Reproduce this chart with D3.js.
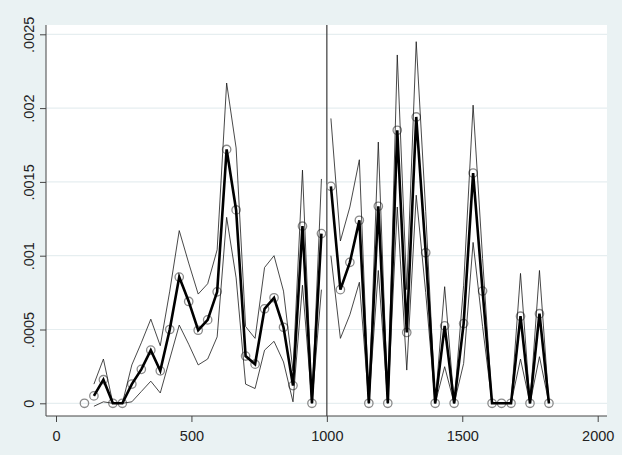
<!DOCTYPE html>
<html>
<head>
<meta charset="utf-8">
<script src="https://cdn.jsdelivr.net/npm/d3@7/dist/d3.min.js"></script>
<style>
  html, body { margin: 0; padding: 0; background: #eaf2f3; }
  svg { display: block; }
  text { font-family: "Liberation Sans", Arial, sans-serif; }
</style>
</head>
<body>
<svg id="chart" width="622" height="455"></svg>
<script>
// Bin midpoints (running variable)
const binX = [105, 140, 175, 210, 245, 280, 315, 350, 385, 420,
              455, 490, 525, 560, 595, 630, 665, 700, 735, 770,
              805, 840, 875, 910, 945, 980, 1015, 1050, 1085, 1120,
              1155, 1190, 1225, 1260, 1295, 1330, 1365, 1400, 1435, 1470,
              1505, 1540, 1575, 1610, 1645, 1680, 1715, 1750, 1785, 1820];

// Bin means (hollow markers and fitted line)
const binMean = [0, 0.00005, 0.00016, 0, 0, 0.00013, 0.00023, 0.00036, 0.00022, 0.0005,
                 0.000855, 0.00069, 0.000495, 0.000565, 0.000755, 0.00172, 0.00131, 0.00032, 0.000265, 0.00064,
                 0.000715, 0.000515, 0.00012, 0.0012, 0, 0.00115, 0.00147, 0.00077, 0.000955, 0.00124,
                 0, 0.001335, 0, 0.00185, 0.00048, 0.00194, 0.00102, 0, 0.000525, 0,
                 0.00054, 0.00156, 0.00076, 0, 0, 0, 0.00059, 0, 0.000607, 0];

// Upper and lower confidence bounds (null where no interval is drawn)
const ciUpper = [null, 0.00013, 0.0003, 0, 0, 0.00026, 0.00041, 0.00057, 0.00039, 0.00076,
                 0.00117, 0.00095, 0.00074, 0.00081, 0.00104, 0.00217, 0.00173, 0.00052, 0.00044, 0.00092,
                 0.001, 0.00076, 0.00022, 0.00158, 0, 0.00152, 0.00193, 0.0011, 0.00133, 0.00165,
                 0, 0.00177, 0, 0.00236, 0.00077, 0.00245, 0.0013, 0, 0.00079, 0,
                 0.0008, 0.00202, 0.00098, 0, 0, 0, 0.00088, 0, 0.0009, 0];
const ciLower = [null, -0.00002, 0.00001, 0, 0, 0.00001, 0.00008, 0.00015, 0.00007, 0.0003,
                 0.00053, 0.0004, 0.00026, 0.0003, 0.00045, 0.00126, 0.00085, 0.00013, 0.0001, 0.00036,
                 0.00042, 0.00028, 0.00001, 0.0008, 0, 0.00077, 0.001, 0.00044, 0.0006, 0.00082,
                 0, 0.0009, 0, 0.00133, 0.000225, 0.00141, 0.00075, 0, 0.000248, 0,
                 0.00027, 0.00109, 0.00052, 0, 0, 0, 0.0003, 0, 0.000316, 0];

// Cutoff and the index ranges fitted on either side of it
const cutoff = 1000;
const leftRange = [1, 25];
const rightRange = [26, 49];

const xTicks = [0, 500, 1000, 1500, 2000];
const xTickLabels = ["0", "500", "1000", "1500", "2000"];
const yTicks = [0, 0.0005, 0.001, 0.0015, 0.002, 0.0025];
const yTickLabels = ["0", ".0005", ".001", ".0015", ".002", ".0025"];

const svg = d3.select("#chart");
const W = 622, H = 455;
const plot = { left: 46, right: 607, top: 25, bottom: 416 };

const x = d3.scaleLinear().domain([0, 2000]).range([56, 597.7]);
const y = d3.scaleLinear().domain([0, 0.0025]).range([403.3, 34.3]);

svg.append("rect").attr("width", W).attr("height", H).attr("fill", "#eaf2f3");
svg.append("rect")
  .attr("x", plot.left).attr("y", plot.top)
  .attr("width", plot.right - plot.left).attr("height", plot.bottom - plot.top)
  .attr("fill", "#ffffff");

// horizontal grid
svg.append("g").selectAll("line").data(yTicks).join("line")
  .attr("x1", plot.left).attr("x2", plot.right)
  .attr("y1", d => y(d)).attr("y2", d => y(d))
  .attr("stroke", "#e6eef0").attr("stroke-width", 1.2);

// y axis
const yAxis = d3.axisLeft(y).tickValues(yTicks)
  .tickFormat((d, i) => yTickLabels[i]).tickSize(6).tickSizeOuter(0);
const gy = svg.append("g").attr("transform", `translate(${plot.left},0)`).call(yAxis);
gy.select(".domain").attr("d", `M0,${plot.top}V${plot.bottom}`).attr("stroke", "#444");
gy.selectAll(".tick line").attr("stroke", "#444");
gy.selectAll(".tick text")
  .attr("x", 0).attr("y", 0).attr("dy", null)
  .attr("text-anchor", "middle")
  .attr("transform", "translate(-12,0) rotate(-90)")
  .attr("font-size", "14.5px").attr("fill", "#222")
  .style("font-family", "'Liberation Sans', Arial, sans-serif");

// x axis
const xAxis = d3.axisBottom(x).tickValues(xTicks)
  .tickFormat((d, i) => xTickLabels[i]).tickSize(6).tickSizeOuter(0);
const gx = svg.append("g").attr("transform", `translate(0,${plot.bottom})`).call(xAxis);
gx.select(".domain").attr("d", `M${plot.left},0H${plot.right}`).attr("stroke", "#444");
gx.selectAll(".tick line").attr("stroke", "#444");
gx.selectAll(".tick text")
  .attr("y", 25).attr("dy", null)
  .attr("font-size", "14.5px").attr("fill", "#222")
  .style("font-family", "'Liberation Sans', Arial, sans-serif");

// cutoff line
svg.append("line")
  .attr("x1", x(cutoff)).attr("x2", x(cutoff))
  .attr("y1", plot.top).attr("y2", plot.bottom)
  .attr("stroke", "#3a3a3a").attr("stroke-width", 1.2);

// bin means
svg.append("g").selectAll("circle").data(binX.map((v, i) => [v, binMean[i]])).join("circle")
  .attr("cx", d => x(d[0])).attr("cy", d => y(d[1])).attr("r", 4.2)
  .attr("fill", "none").attr("stroke", "#8a8a8a").attr("stroke-width", 1.3);

const seg = (arr, r) => d3.range(r[0], r[1] + 1).map(i => [binX[i], arr[i]]);
const line = d3.line().x(d => x(d[0])).y(d => y(d[1]));

[leftRange, rightRange].forEach(r => {
  [ciUpper, ciLower].forEach(arr => {
    svg.append("path").datum(seg(arr, r)).attr("d", line)
      .attr("fill", "none").attr("stroke", "#1a1a1a").attr("stroke-width", 0.8);
  });
  svg.append("path").datum(seg(binMean, r)).attr("d", line)
    .attr("fill", "none").attr("stroke", "#000").attr("stroke-width", 2.6)
    .attr("stroke-linejoin", "miter");
});
</script>
</body>
</html>
